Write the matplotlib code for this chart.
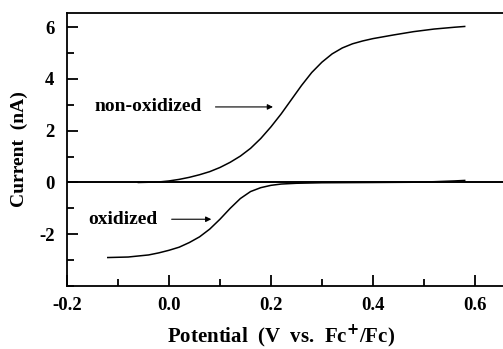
import matplotlib
matplotlib.use("Agg")
import matplotlib.pyplot as plt
from matplotlib.ticker import MultipleLocator

# values
nonox_v = [-0.06, -0.02, 0.0, 0.02, 0.04, 0.06, 0.08, 0.10, 0.12, 0.14, 0.16, 0.18,
           0.20, 0.22, 0.24, 0.26, 0.28, 0.30, 0.32, 0.34, 0.36, 0.38, 0.40, 0.44,
           0.48, 0.52, 0.56, 0.58]
nonox_i = [0.0, 0.02, 0.06, 0.12, 0.2, 0.3, 0.42, 0.58, 0.78, 1.02, 1.32, 1.7,
           2.15, 2.65, 3.2, 3.75, 4.25, 4.65, 4.97, 5.2, 5.36, 5.47, 5.56, 5.7,
           5.83, 5.93, 6.0, 6.03]

ox_v = [-0.12, -0.08, -0.04, -0.02, 0.0, 0.02, 0.04, 0.06, 0.08, 0.10, 0.12, 0.14,
        0.16, 0.18, 0.20, 0.22, 0.25, 0.30, 0.40, 0.48, 0.52, 0.56, 0.58]
ox_i = [-2.9, -2.88, -2.8, -2.72, -2.62, -2.5, -2.32, -2.1, -1.8, -1.42, -1.0, -0.62,
        -0.35, -0.2, -0.11, -0.06, -0.03, -0.01, 0.0, 0.01, 0.03, 0.06, 0.08]

x_ticks = [-0.2, 0.0, 0.2, 0.4, 0.6]
x_labels = ["-0.2", "0.0", "0.2", "0.4", "0.6"]
y_ticks = [-2, 0, 2, 4, 6]
y_labels = ["-2", "0", "2", "4", "6"]

plt.rcParams["font.family"] = "Liberation Serif"
plt.rcParams["font.weight"] = "bold"

fig = plt.figure(figsize=(5.03, 3.49), dpi=100)
ax = fig.add_axes([67 / 503, 1 - 286 / 349, 1 - 67 / 503 + 0.01, (286 - 13) / 349])

ax.axhline(0, color="black", lw=1.4)
ax.plot(nonox_v, nonox_i, color="black", lw=1.1)
ax.plot(ox_v, ox_i, color="black", lw=1.1)

ax.set_xlim(-0.2, 0.665)
ax.set_ylim(-4, 6.55)
ax.set_xticks(x_ticks)
ax.set_xticklabels(x_labels)
ax.set_yticks(y_ticks)
ax.set_yticklabels(y_labels)
ax.xaxis.set_minor_locator(MultipleLocator(0.1))
ax.yaxis.set_minor_locator(MultipleLocator(1))
ax.tick_params(which="both", direction="in", width=1.3, labelsize=13.5)
ax.tick_params(which="major", length=8)
ax.tick_params(which="minor", length=5)
ax.tick_params(axis="x", pad=8)
ax.tick_params(axis="y", pad=9)
ax.spines["right"].set_visible(False)
for s in ["left", "bottom", "top"]:
    ax.spines[s].set_linewidth(1.3)

ax.set_xlabel("Potential  (V  vs.  Fc$^{+}$/Fc)", fontsize=15, fontweight="bold")
ax.xaxis.set_label_coords(0.485, -0.133)
ax.set_ylabel("Current  (nA)", fontsize=14, fontweight="bold", labelpad=8)

arrow = dict(arrowstyle="-|>", color="black", lw=0.8, mutation_scale=8, shrinkA=8, shrinkB=0)
ax.annotate("non-oxidized", xy=(0.204, 2.92), xytext=(0.064, 2.92), fontsize=14,
            fontweight="bold", ha="right", va="center", arrowprops=arrow)
ax.annotate("oxidized", xy=(0.083, -1.42), xytext=(-0.022, -1.42), fontsize=14,
            fontweight="bold", ha="right", va="center", arrowprops=arrow)

fig.savefig("out.png", dpi=100)
